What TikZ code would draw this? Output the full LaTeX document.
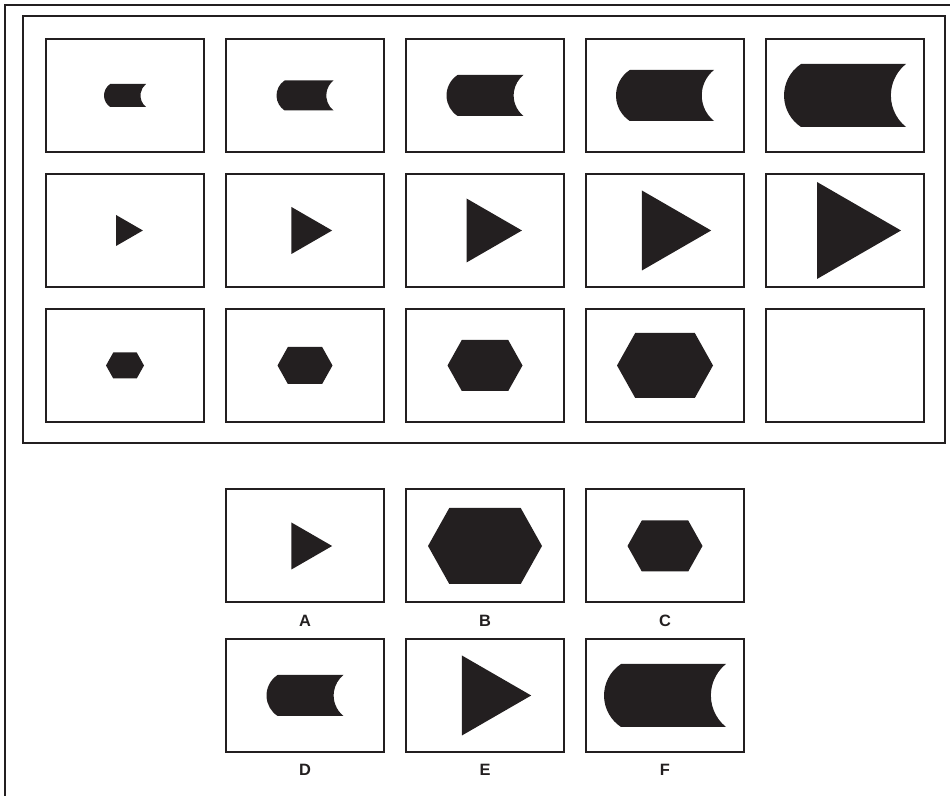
\documentclass[tikz,border=0pt]{standalone}
\usepackage{fontspec}
\setmainfont{Liberation Sans}
\usepackage{tikz}
\usetikzlibrary{positioning}
\definecolor{ink}{HTML}{231F20}

\begin{document}
\begin{tikzpicture}[x=0.03cm, y=0.03cm,
        cell/.style={rectangle, draw=ink, line width=1.7pt, minimum width=4.74cm, minimum height=3.39cm, inner sep=0pt},
        frame/.style={draw=ink, line width=1.7pt},
        tag/.style={font=\bfseries\fontsize{14}{16}\selectfont, text=ink, inner sep=0pt},
        pics/drum/.style 2 args={code={
            \fill[ink] ({-#1/2+0.27*#2}, {#2/2}) arc[start angle=123.3, end angle=236.7, radius=0.598*#2]
                -- ({#1/2}, {-#2/2}) arc[start angle=231.3, end angle=128.7, radius=0.641*#2] -- cycle;
        }},
        pics/tri/.style={code={
            \fill[ink] ({-0.2887*#1}, {#1/2}) -- ({0.5774*#1}, 0) -- ({-0.2887*#1}, {-#1/2}) -- cycle;
        }},
        pics/hexa/.style 2 args={code={
            \fill[ink] ({-#1/2}, 0) -- ({-#1/2+0.28*#2}, {#2/2}) -- ({#1/2-0.28*#2}, {#2/2})
                -- ({#1/2}, 0) -- ({#1/2-0.28*#2}, {-#2/2}) -- ({-#1/2+0.28*#2}, {-#2/2}) -- cycle;
        }}
      ]
      \useasboundingbox (0,0) rectangle (950,796);
      \draw[frame] (950,791) -- (5,791) -- (5,0);
      \draw[frame] (23,353) rectangle (945,780);
      % the matrix
      \foreach \w/\h [count=\i] in {42/23, 57/30, 77/41, 98/51, 122/63} {
         \node[cell] (d\i) at ({-55+180*\i}, 700.5) {};
         \pic at (d\i) {drum={\w}{\h}};
      }
      \foreach \h [count=\i] in {31, 47, 64, 80, 97} {
         \node[cell] (t\i) at ({-55+180*\i}, 565.5) {};
         \pic at (t\i) {tri=\h};
      }
      \foreach \i in {1,...,5} {
         \node[cell] (x\i) at ({-55+180*\i}, 430.5) {};
      }
      \foreach \w/\h [count=\i] in {38/26, 55/37, 75/51, 96/65} {
         \pic at (x\i) {hexa={\w}{\h}};
      }
      % the choices
      \node[cell] (A) at (305,250) {};
      \node[cell] (B) at (485,250) {};
      \node[cell] (C) at (665,250) {};
      \node[cell] (D) at (305,100.5) {};
      \node[cell] (E) at (485,100.5) {};
      \node[cell] (F) at (665,100.5) {};
      \pic at (A) {tri=47};
      \pic at (B) {hexa={114}{76}};
      \pic at (C) {hexa={75}{51}};
      \pic at (D) {drum={77}{41}};
      \pic at (E) {tri=80};
      \pic at (F) {drum={122}{63}};
      \foreach \n in {A,B,C,D,E,F} {
         \node[tag, below=0.33cm of \n] (lab\n) {\n};
      }
    \end{tikzpicture}
\end{document}
